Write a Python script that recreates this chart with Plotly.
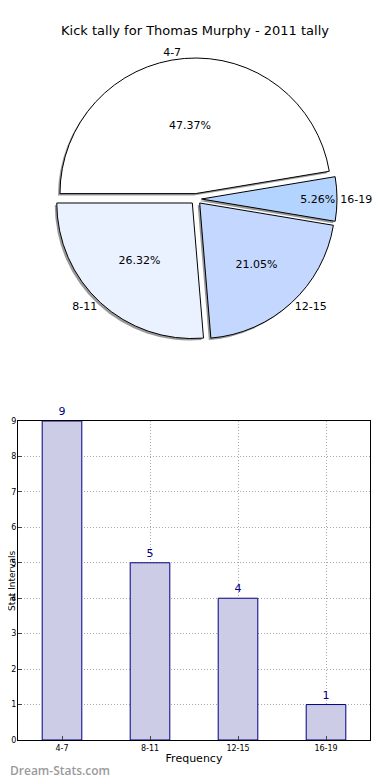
import plotly.graph_objects as go

categories = ["4-7", "8-11", "12-15", "16-19"]
counts = [9, 5, 4, 1]
pie_colors = ["#FFFFFF", "#EAF1FF", "#C4D8FF", "#B3D4FF"]
pulls = [0.04, 0.04, 0.04, 0.04]
y_ticks = [0, 1, 2, 3, 4, 5, 6, 7, 8, 9]

# page is rendered with an 8px body margin; work in page pixels and convert
OFF = 8
W, H = 390 - OFF, 780 - OFF
FONT = "DejaVu Sans"


def px(x):
    return (x - OFF) / W


def py(y):
    return 1 - (y - OFF) / H


cx, cy, half = 196, 199, 141
dom_x = [px(cx - half), px(cx + half)]
dom_y = [py(cy + half), py(cy - half)]
sdx, sdy = -2, 2
sh_x = [px(cx + sdx - half), px(cx + sdx + half)]
sh_y = [py(cy + sdy + half), py(cy + sdy - half)]

ROT = -90

fig = go.Figure()
# shadow
fig.add_trace(go.Pie(labels=categories, values=counts, sort=False,
                     direction="counterclockwise", rotation=ROT, pull=pulls,
                     marker=dict(colors=["#999999"] * 4, line=dict(color="#999999", width=0)),
                     textinfo="none", hoverinfo="skip", showlegend=False,
                     domain=dict(x=sh_x, y=sh_y)))
# main pie with percentages
fig.add_trace(go.Pie(labels=categories, values=counts, sort=False,
                     direction="counterclockwise", rotation=ROT, pull=pulls,
                     marker=dict(colors=pie_colors, line=dict(color="#000000", width=1)),
                     texttemplate="%{percent:.2%}", textposition="inside",
                     insidetextorientation="horizontal",
                     textfont=dict(family=FONT, size=11, color="#000000"),
                     showlegend=False, domain=dict(x=dom_x, y=dom_y)))
# labels outside
fig.add_trace(go.Pie(labels=categories, values=counts, sort=False,
                     direction="counterclockwise", rotation=ROT, pull=pulls,
                     marker=dict(colors=["rgba(0,0,0,0)"] * 4, line=dict(width=0)),
                     texttemplate="%{label}", textposition="outside",
                     textfont=dict(family=FONT, size=11, color="#000000"),
                     hoverinfo="skip", showlegend=False, automargin=False,
                     domain=dict(x=dom_x, y=dom_y)))

fig.add_trace(go.Bar(x=list(range(len(categories))), y=counts, width=0.45,
                     marker=dict(color="#CCCCE6", line=dict(color="#000080", width=1)),
                     text=[str(c) for c in counts], textposition="outside",
                     textfont=dict(family=FONT, size=11, color="#000080"),
                     cliponaxis=False, showlegend=False,
                     xaxis="x", yaxis="y"))

GRID = dict(showgrid=True, gridcolor="#A8A8A8", griddash="1px,2px", gridwidth=1)

fig.update_layout(
    width=W, height=H, margin=dict(l=0, r=0, t=0, b=0),
    paper_bgcolor="white", plot_bgcolor="white",
    font=dict(family=FONT, size=11, color="#000000"),
    title=dict(text="Kick tally for Thomas Murphy - 2011 tally", x=px(195), xanchor="center",
               y=py(30), yanchor="middle", font=dict(family=FONT, size=13)),
    xaxis=dict(domain=[px(18), px(370)], range=[-0.5, 3.5], automargin=False,
               tickmode="array", tickvals=list(range(len(categories))), ticktext=categories,
               tickfont=dict(size=8), **GRID,
               showline=True, linecolor="black", mirror=True, ticks="inside", ticklen=4,
               zeroline=False, title=dict(text="Frequency", font=dict(size=11), standoff=2),
               anchor="y"),
    yaxis=dict(domain=[py(740), py(421)], range=[0, 9], automargin=False,
               tickmode="array", tickvals=y_ticks, tickfont=dict(size=8),
               ticklabelstandoff=-1, **GRID,
               showline=True, linecolor="black", mirror=True, ticks="inside", ticklen=4,
               zeroline=False, anchor="x"),
    annotations=[
        dict(text="Dream-Stats.com", xref="paper", yref="paper",
             x=0, y=py(770), xanchor="left", yanchor="middle", showarrow=False,
             font=dict(family="Open Sans", size=12, weight=600, color="#9A9A9A")),
        dict(text="Stat Intervals", xref="paper", yref="paper", textangle=-90,
             x=-2 / W, y=py(581), xanchor="left", yanchor="middle", showarrow=False,
             borderpad=0, font=dict(family=FONT, size=9, color="#000000")),
    ],
)

fig.write_html("out.html")
